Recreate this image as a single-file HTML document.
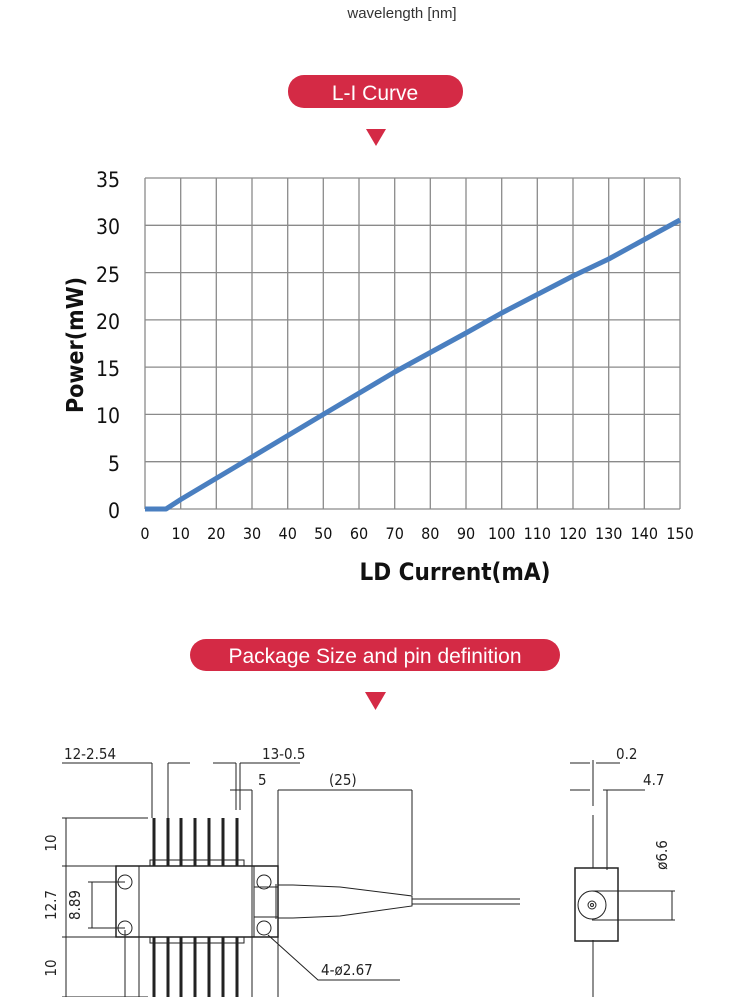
<!DOCTYPE html>
<html><head><meta charset="utf-8"><style>
html,body{margin:0;padding:0;background:#fff;width:750px;height:997px;overflow:hidden}
svg{display:block}
</style></head><body>
<svg width="750" height="997" viewBox="0 0 750 997" xmlns="http://www.w3.org/2000/svg" font-family="Liberation Sans, sans-serif">
<text x="402" y="18" text-anchor="middle" font-size="15" fill="#333">wavelength [nm]</text>
<rect x="288" y="75" width="175" height="33" rx="16" fill="#d42a45"/>
<text x="375" y="100" text-anchor="middle" font-size="21" fill="#fff">L-I Curve</text>
<polygon points="366,129 386,129 376,146" fill="#d42a45"/>

<g stroke="#8a8a8a" stroke-width="1.3" fill="none">
<path d="M145,178V509M180.7,178V509M216.3,178V509M252,178V509M287.7,178V509M323.3,178V509M359,178V509M394.7,178V509M430.3,178V509M466,178V509M501.7,178V509M537.3,178V509M573,178V509M608.7,178V509M644.3,178V509M680,178V509"/>
<path d="M145,178H680M145,225.3H680M145,272.6H680M145,319.9H680M145,367.1H680M145,414.4H680M145,461.7H680M145,509H680"/>
</g>
<polyline fill="none" stroke="#4a7fc0" stroke-width="5" stroke-linejoin="round" points="145,509 166,509 180.7,499.5 252,457 323.3,414.4 394.7,372 466,333 501.7,313 573,276 608.7,259 680,220"/>
<g font-size="21" fill="#111" text-anchor="end" font-family="DejaVu Sans Condensed, DejaVu Sans, sans-serif">
<text x="120" y="187">35</text><text x="120" y="234">30</text><text x="120" y="282">25</text><text x="120" y="329">20</text><text x="120" y="376">15</text><text x="120" y="423">10</text><text x="120" y="471">5</text><text x="120" y="518">0</text>
</g>
<g font-size="16" fill="#111" text-anchor="middle" font-family="DejaVu Sans Condensed, DejaVu Sans, sans-serif">
<text x="145" y="539">0</text><text x="180.7" y="539">10</text><text x="216.3" y="539">20</text><text x="252" y="539">30</text><text x="287.7" y="539">40</text><text x="323.3" y="539">50</text><text x="359" y="539">60</text><text x="394.7" y="539">70</text><text x="430.3" y="539">80</text><text x="466" y="539">90</text><text x="501.7" y="539">100</text><text x="537.3" y="539">110</text><text x="573" y="539">120</text><text x="608.7" y="539">130</text><text x="644.3" y="539">140</text><text x="680" y="539">150</text>
</g>
<text x="455" y="580" text-anchor="middle" font-size="24" font-weight="bold" fill="#111" font-family="DejaVu Sans Condensed, DejaVu Sans, sans-serif">LD Current(mA)</text>
<text transform="translate(83,345) rotate(-90)" text-anchor="middle" font-size="23" font-weight="bold" fill="#111" font-family="DejaVu Sans Condensed, DejaVu Sans, sans-serif">Power(mW)</text>

<rect x="190" y="639" width="370" height="32" rx="16" fill="#d42a45"/>
<text x="375" y="663" text-anchor="middle" font-size="21" fill="#fff">Package Size and pin definition</text>
<polygon points="365,692 386,692 375.5,710" fill="#d42a45"/>

<g stroke="#222" stroke-width="1" fill="none">
<!-- top dims -->
<path d="M62,763H152M152,763V818M168,763V818M168,763H190M213,763H236M236,763V810M240,763V810M240,763H300"/>
<path d="M230,790H252M252,790V997M278,790V997M278,790H412M412,790V895"/>
<path d="M62,818H148M62,866H148M62,937H148M62,997H148M66,818V997M88,882H125M88,928H125M92,882V928"/>
<!-- body -->
<rect x="116" y="866" width="162" height="71" stroke-width="1.5"/>
<path d="M139,866V937M254,866V937M254,887H278M254,917H278"/>
<circle cx="125" cy="882" r="7"/><circle cx="125" cy="928" r="7"/><circle cx="264" cy="882" r="7"/><circle cx="264" cy="928" r="7"/>
<rect x="150" y="860" width="94" height="6"/><rect x="150" y="937" width="94" height="6"/>
<path d="M278,885H293L340,887L412,896V906L340,916L293,918H278"/>
<path d="M276,884V919M412,899H520M412,904H520"/>
<path d="M268,935L318,980H400"/>
<path d="M125,930V997M139,937V997"/>
<!-- side view -->
<path d="M570,763H590M596,763H620M570,790H590M603,790H645M607,790V870M593,760V806M593,815V868M593,940V997"/>
<rect x="575" y="868" width="43" height="73" stroke-width="1.5"/>
<circle cx="592" cy="905" r="14"/><circle cx="592" cy="905" r="4"/><circle cx="592" cy="905" r="1.5"/>
<path d="M592,891H675M592,920H675M672,891V920"/>
</g>
<g stroke="#222" stroke-width="3">
<path d="M154,818V866M168,818V866M181,818V866M195,818V866M209,818V866M223,818V866M237,818V866"/>
<path d="M154,937V997M168,937V997M181,937V997M195,937V997M209,937V997M223,937V997M237,937V997"/>
</g>
<g font-size="15" fill="#222" font-family="DejaVu Sans Condensed, DejaVu Sans, sans-serif">
<text x="64" y="759">12-2.54</text>
<text x="262" y="759">13-0.5</text>
<text x="258" y="785">5</text>
<text x="329" y="785">(25)</text>
<text x="321" y="975">4-ø2.67</text>
<text x="616" y="759">0.2</text>
<text x="643" y="785">4.7</text>
<text transform="translate(56,843) rotate(-90)" text-anchor="middle">10</text>
<text transform="translate(56,905) rotate(-90)" text-anchor="middle">12.7</text>
<text transform="translate(80,905) rotate(-90)" text-anchor="middle">8.89</text>
<text transform="translate(56,968) rotate(-90)" text-anchor="middle">10</text>
<text transform="translate(667,855) rotate(-90)" text-anchor="middle">ø6.6</text>
</g>
</svg>
</body></html>
